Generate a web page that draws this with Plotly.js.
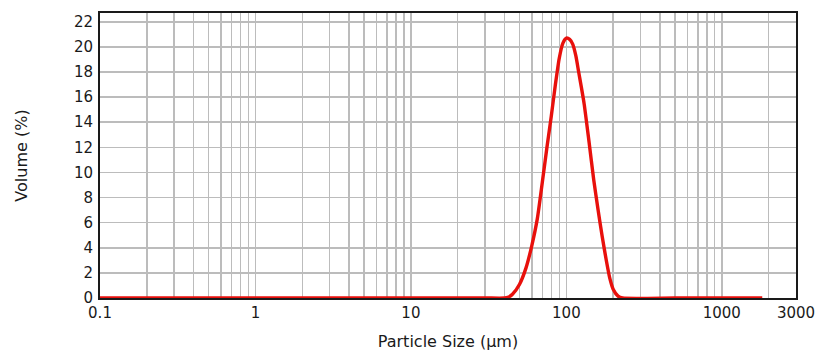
<!DOCTYPE html>
<html>
<head>
<meta charset="utf-8">
<script src="https://cdn.plot.ly/plotly-3.0.1.min.js"></script>
<style>
  html, body { margin: 0; padding: 0; background: #fff; }
  #chart { width: 816px; height: 351px; }
</style>
</head>
<body>
<div id="chart"></div>
<script>
// Particle size distribution (volume %) vs particle size in µm
const sizeUm = [0.1, 1, 10, 30, 40, 42, 45, 50, 55, 60, 65, 70, 75, 80, 85, 90, 95, 100, 105, 110,
                115, 120, 130, 140, 150, 160, 170, 180, 190, 200, 215, 230, 500, 1000, 1820];
const volumePct = [0, 0, 0, 0, 0, 0.05, 0.3, 1.1, 2.4, 4.2, 6.3, 9.2, 12.0, 14.5, 17.0, 19.1, 20.3, 20.7, 20.6, 20.2,
                   19.3, 18.0, 15.5, 12.4, 9.4, 7.0, 4.9, 3.1, 1.6, 0.7, 0.15, 0, 0, 0, 0];

// Log-axis grid positions and which of them carry a label
const xGridVals = [0.1, 0.2, 0.3, 0.4, 0.5, 0.6, 0.7, 0.8, 0.9,
                   1, 2, 3, 4, 5, 6, 7, 8, 9,
                   10, 20, 30, 40, 50, 60, 70, 80, 90,
                   100, 200, 300, 400, 500, 600, 700, 800, 900,
                   1000, 2000, 3000];
const xLabeled = {0.1: '0.1', 1: '1', 10: '10', 100: '100', 1000: '1000', 3000: '3000'};
const xGridText = xGridVals.map(v => xLabeled[v] || '');

const yTickVals = [0, 2, 4, 6, 8, 10, 12, 14, 16, 18, 20, 22];

const font = { family: 'DejaVu Sans, Verdana, sans-serif', size: 15, color: '#1a1a1a' };
const titleFont = { family: 'DejaVu Sans, Verdana, sans-serif', size: 16, color: '#1a1a1a' };

const trace = {
  x: sizeUm,
  y: volumePct,
  type: 'scatter',
  mode: 'lines',
  line: { color: '#e8100c', width: 3.4, shape: 'spline', smoothing: 0.6 },
  hoverinfo: 'skip'
};

const layout = {
  width: 816,
  height: 351,
  margin: { l: 100, r: 20, t: 13, b: 53 },
  paper_bgcolor: '#ffffff',
  plot_bgcolor: '#ffffff',
  showlegend: false,
  font: font,
  xaxis: {
    type: 'log',
    range: [Math.log10(0.1), Math.log10(3000)],
    tickmode: 'array',
    tickvals: xGridVals,
    ticktext: xGridText,
    ticks: '',
    showgrid: true,
    gridcolor: '#bcbcbc',
    gridwidth: 1.5,
    showline: true,
    linecolor: '#1a1a1a',
    linewidth: 2,
    mirror: true,
    zeroline: false,
    tickfont: font,
    automargin: false,
    title: { text: 'Particle Size (µm)', font: titleFont, standoff: 15 }
  },
  yaxis: {
    range: [0, 22.7],
    tickmode: 'array',
    tickvals: yTickVals,
    ticks: '',
    showgrid: true,
    gridcolor: '#bcbcbc',
    gridwidth: 1.5,
    showline: true,
    linecolor: '#1a1a1a',
    linewidth: 2,
    mirror: true,
    zeroline: false,
    tickfont: font,
    ticklabelstandoff: 2,
    automargin: false,
    title: { text: 'Volume (%)', font: titleFont, standoff: 42 }
  }
};

Plotly.newPlot('chart', [trace], layout, { displayModeBar: false, staticPlot: true });
</script>
</body>
</html>
